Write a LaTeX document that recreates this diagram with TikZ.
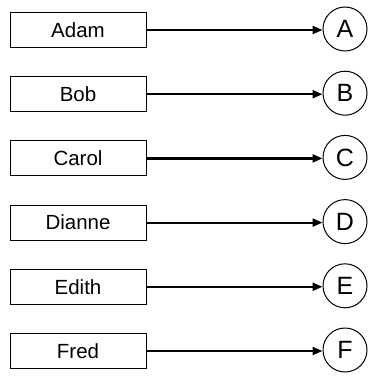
\documentclass[tikz,border=0pt]{standalone}
\usepackage{fontspec}
\setmainfont{Liberation Sans}
\usetikzlibrary{arrows.meta}
\begin{document}
\begin{tikzpicture}[x=1pt,y=-1pt,
  namebox/.style={draw, line width=1pt, minimum width=136pt, minimum height=35pt, inner sep=0pt, font=\fontsize{20.5}{20.5}\selectfont},
  letter/.style={draw, circle, line width=1pt, minimum size=44pt, inner sep=0pt, font=\fontsize{25}{25}\selectfont},
  link/.style={line width=2.2pt, -{Triangle[length=10pt,width=8pt]}}]
\useasboundingbox (0,0) rectangle (368,377);
\foreach \n/\l [count=\i from 0] in {Adam/A,Bob/B,Carol/C,Dianne/D,Edith/E,Fred/F}{
  \node[namebox] (n\i) at (78,{30+64.2*\i}) {\n};
  \node[letter] (c\i) at (345,{29+64.2*\i}) {\l};
  \draw[link] (n\i.east) -- (c\i.west |- n\i.east);
}
\end{tikzpicture}
\end{document}
